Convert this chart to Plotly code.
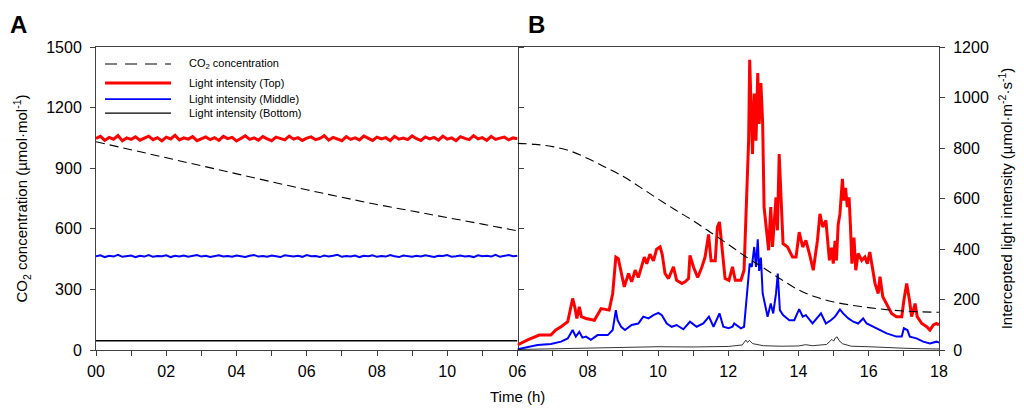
import plotly.graph_objects as go

# ---------------- Panel A (00-12 h, artificial light) ----------------
time_a = [0, 0.125, 0.25, 0.375, 0.5, 0.625, 0.75, 0.875,
          1, 1.125, 1.25, 1.375, 1.5, 1.625, 1.75, 1.875,
          2, 2.125, 2.25, 2.375, 2.5, 2.625, 2.75, 2.875,
          3, 3.125, 3.25, 3.375, 3.5, 3.625, 3.75, 3.875,
          4, 4.125, 4.25, 4.375, 4.5, 4.625, 4.75, 4.875,
          5, 5.125, 5.25, 5.375, 5.5, 5.625, 5.75, 5.875,
          6, 6.125, 6.25, 6.375, 6.5, 6.625, 6.75, 6.875,
          7, 7.125, 7.25, 7.375, 7.5, 7.625, 7.75, 7.875,
          8, 8.125, 8.25, 8.375, 8.5, 8.625, 8.75, 8.875,
          9, 9.125, 9.25, 9.375, 9.5, 9.625, 9.75, 9.875,
          10, 10.125, 10.25, 10.375, 10.5, 10.625, 10.75, 10.875,
          11, 11.125, 11.25, 11.375, 11.5, 11.625, 11.75, 11.875,
          12]
top_a = [838, 846, 830, 842, 835, 849, 829, 840, 834, 844,
         831, 839, 847, 833, 841, 828, 843, 836, 850, 832,
         840, 835, 845, 829, 838, 844, 833, 841, 830, 846,
         837, 842, 828, 839, 848, 834, 840, 831, 845, 836,
         829, 843, 838, 832, 847, 835, 841, 830, 839, 844,
         833, 838, 849, 831, 842, 836, 829, 845, 834, 840,
         832, 847, 838, 830, 843, 836, 841, 829, 846, 835,
         839, 833, 848, 837, 830, 844, 836, 842, 831, 847,
         835, 840, 829, 845, 838, 833, 849, 836, 841, 830,
         846, 834, 839, 843, 832, 840, 837]
mid_a = [371, 375, 368, 373, 370, 377, 369, 372, 374, 368,
         373, 370, 376, 369, 372, 371, 375, 368, 373, 370,
         374, 369, 372, 376, 370, 373, 368, 371, 375, 370,
         372, 369, 374, 371, 368, 373, 376, 370, 372, 369,
         374, 371, 368, 375, 372, 370, 373, 369, 376, 371,
         372, 368, 374, 370, 373, 377, 369, 372, 370, 374,
         368, 373, 371, 375, 369, 372, 370, 376, 371, 368,
         374, 372, 369, 373, 370, 375, 371, 368, 373, 372,
         376, 369, 371, 374, 370, 372, 368, 375, 371, 373,
         370, 377, 369, 372, 376, 371, 373]
bot_time_a = [0, 3, 6, 7.2, 9, 12]
bot_a = [37, 37, 37, 38, 37, 37]
co2_time_a = [0, 1, 2, 3, 4, 5, 6, 7, 8, 9, 10, 11, 12]
co2_a = [1031, 991, 952, 912, 873, 833, 793, 756, 720, 688, 657, 623, 590]

# ---------------- Panel B (06-18 h, natural light) ----------------
top_time_b = [6.00, 6.29, 6.62, 6.95, 7.09, 7.24, 7.43, 7.52, 7.57, 7.63, 7.69, 7.76, 7.82, 7.95,
              8.19, 8.38, 8.61, 8.71, 8.80, 8.87, 8.95, 9.04, 9.16, 9.25, 9.35, 9.44, 9.53, 9.61,
              9.68, 9.77, 9.87, 9.96, 10.06, 10.12, 10.20, 10.30, 10.44, 10.53, 10.68, 10.77,
              10.87, 10.91, 11.01, 11.13, 11.25, 11.34, 11.44, 11.51, 11.63, 11.69, 11.75, 11.82,
              11.91, 12.02, 12.12, 12.20, 12.36, 12.45, 12.52, 12.58, 12.61, 12.65, 12.69, 12.74,
              12.79, 12.84, 12.88, 12.93, 12.98, 13.02, 13.07, 13.15, 13.21, 13.26, 13.36, 13.40,
              13.45, 13.50, 13.56, 13.69, 13.83, 13.93, 14.02, 14.12, 14.21, 14.31, 14.42, 14.54,
              14.61, 14.69, 14.78, 14.88, 14.94, 14.99, 15.04, 15.08, 15.13, 15.18, 15.25, 15.29,
              15.34, 15.39, 15.44, 15.48, 15.52, 15.58, 15.63, 15.70, 15.80, 15.89, 15.96, 16.03,
              16.11, 16.18, 16.27, 16.32, 16.40, 16.51, 16.65, 16.79, 16.94, 17.00, 17.08, 17.16,
              17.22, 17.32, 17.38, 17.51, 17.65, 17.74, 17.84, 17.93, 18.00]
top_b = [20, 40, 59, 59, 79, 92, 112, 171, 204, 171, 125, 171, 132, 125,
         118, 164, 158, 224, 368, 362, 303, 250, 303, 270, 316, 287, 329, 368,
         342, 379, 353, 399, 408, 379, 303, 283, 329, 276, 263, 270,
         283, 375, 329, 287, 329, 368, 458, 353, 353, 487, 507, 408,
         283, 276, 329, 276, 276, 316, 566, 829, 1149, 963, 776, 1016,
         829, 1097, 895, 1057, 895, 566, 500, 395, 566, 408, 605, 474,
         776, 592, 421, 408, 368, 368, 467, 408, 434, 382, 316, 434,
         539, 487, 513, 355, 405, 342, 432, 355, 497, 539, 678, 592,
         642, 566, 605, 487, 342, 445, 316, 382, 355, 368, 342, 388,
         329, 263, 224, 290, 211, 184, 145, 132, 132, 197, 263, 197,
         132, 184, 132, 105, 92, 79, 99, 105, 99]

mid_time_b = [6.00, 6.57, 6.95, 7.24, 7.43, 7.57, 7.66, 7.76, 7.85, 7.95, 8.09, 8.28, 8.57, 8.71,
              8.80, 8.85, 8.95, 9.06, 9.25, 9.44, 9.58, 9.73, 9.87, 10.01, 10.11, 10.25, 10.39,
              10.53, 10.72, 10.91, 11.10, 11.29, 11.45, 11.58, 11.75, 11.86, 12.01, 12.12, 12.17,
              12.36, 12.45, 12.55, 12.61, 12.67, 12.74, 12.79, 12.84, 12.88, 12.93, 12.98, 13.05,
              13.12, 13.21, 13.28, 13.36, 13.41, 13.47, 13.56, 13.74, 13.88, 14.02, 14.12, 14.21,
              14.40, 14.64, 14.78, 14.92, 15.04, 15.18, 15.27, 15.42, 15.56, 15.70, 15.84, 15.94,
              16.13, 16.32, 16.51, 16.79, 16.94, 17.00, 17.10, 17.17, 17.36, 17.55, 17.74, 17.93,
              18.00]
mid_b = [3, 20, 24, 33, 46, 79, 53, 72, 49, 53, 40, 59, 59, 79,
         158, 118, 92, 79, 99, 105, 132, 125, 138, 147, 138, 105, 92,
         99, 82, 112, 92, 105, 132, 92, 145, 92, 86, 92, 105,
         86, 92, 237, 342, 329, 408, 329, 438, 313, 366, 224, 184,
         132, 184, 145, 224, 303, 158, 138, 118, 118, 162, 132, 138,
         105, 145, 105, 118, 132, 161, 145, 125, 112, 105, 125, 105,
         92, 79, 66, 53, 53, 86, 79, 53, 46, 33, 26, 33,
         29]

bot_time_b = [6.0, 7.0, 8.0, 9.0, 10.0, 11.0, 12.0, 12.4, 12.5, 12.55, 12.6, 12.7, 13.0, 13.5,
              14.0, 14.2, 14.4, 14.8, 14.95, 15.0, 15.05, 15.1, 15.15, 15.25, 15.5, 16.0, 16.5,
              17.0, 17.5, 18.0]
bot_b = [2, 4, 7, 10, 13, 12, 14, 20, 39, 30, 38, 25, 17, 15,
         16, 21, 17, 22, 42, 35, 48, 52, 38, 25, 15, 13, 9,
         7, 5, 4]

co2_time_b = [6, 6.5, 7, 7.5, 8, 8.5, 9, 9.5, 10, 10.5, 11, 11.5, 12, 12.5, 13, 13.5, 14, 14.5,
              15, 15.5, 16, 16.5, 17, 17.5, 18]
co2_b = [1023, 1018, 1007, 985, 948, 905, 860, 805, 748, 693, 640, 582, 523, 462, 407, 350,
         298, 262, 238, 222, 210, 200, 193, 189, 187]

# ---------------- Tick labels ----------------
xtick_a = [0, 2, 4, 6, 8, 10]
xtext_a = ["00", "02", "04", "06", "08", "10"]
xminor_a = [1, 3, 5, 7, 9, 11]
xtick_b = [6, 8, 10, 12, 14, 16, 18]
xtext_b = ["06", "08", "10", "12", "14", "16", "18"]
xminor_b = [7, 9, 11, 13, 15, 17]
ytick_co2 = [0, 300, 600, 900, 1200, 1500]
ytick_light = [0, 200, 400, 600, 800, 1000, 1200]

legend_names = ["CO<sub>2</sub> concentration", "Light intensity (Top)",
                "Light intensity (Middle)", "Light intensity (Bottom)"]

RED = "#ff0000"
BLUE = "#0000ff"
BLACK = "#000000"
AXC = "#404040"
FONT = "Liberation Sans, Arial, sans-serif"

fig = go.Figure()

# Panel A
fig.add_trace(go.Scatter(x=co2_time_a, y=co2_a, xaxis="x", yaxis="y", mode="lines",
                         line=dict(color=BLACK, width=1.1, dash="9px,5px"), showlegend=False))
fig.add_trace(go.Scatter(x=time_a, y=top_a, xaxis="x", yaxis="y3", mode="lines",
                         line=dict(color=RED, width=3), showlegend=False))
fig.add_trace(go.Scatter(x=time_a, y=mid_a, xaxis="x", yaxis="y3", mode="lines",
                         line=dict(color=BLUE, width=2), showlegend=False))
fig.add_trace(go.Scatter(x=bot_time_a, y=bot_a, xaxis="x", yaxis="y3", mode="lines",
                         line=dict(color=BLACK, width=1.5), showlegend=False))

# Panel B
fig.add_trace(go.Scatter(x=co2_time_b, y=co2_b, xaxis="x2", yaxis="y4", mode="lines",
                         line=dict(color=BLACK, width=1.1, dash="9px,5px", shape="spline"),
                         showlegend=False))
fig.add_trace(go.Scatter(x=top_time_b, y=top_b, xaxis="x2", yaxis="y2", mode="lines",
                         line=dict(color=RED, width=3), showlegend=False))
fig.add_trace(go.Scatter(x=mid_time_b, y=mid_b, xaxis="x2", yaxis="y2", mode="lines",
                         line=dict(color=BLUE, width=2), showlegend=False))
fig.add_trace(go.Scatter(x=bot_time_b, y=bot_b, xaxis="x2", yaxis="y2", mode="lines",
                         line=dict(color=BLACK, width=0.8), showlegend=False))

tickfont = dict(family=FONT, size=16, color="black")
titlefont = dict(family=FONT, size=15, color="black")

fig.update_layout(
    width=1024, height=411,
    margin=dict(l=96, r=85, t=47, b=61),
    paper_bgcolor="white", plot_bgcolor="white",
    font=dict(family=FONT, color="black"),
    hovermode=False,
    xaxis=dict(domain=[0, 0.5], range=[0, 12], anchor="y", tickmode="array",
               tickvals=xtick_a, ticktext=xtext_a, ticks="outside", ticklen=5,
               tickcolor=AXC, showline=True, linecolor=AXC, linewidth=1, mirror=True,
               showgrid=False, zeroline=False, tickfont=tickfont, ticklabelstandoff=2,
               minor=dict(tickvals=xminor_a, ticks="outside", ticklen=5,
                          tickcolor=AXC, showgrid=False)),
    yaxis=dict(domain=[0, 1], range=[0, 1500], anchor="x", side="left", tickmode="array",
               tickvals=ytick_co2, ticks="outside", ticklen=5, tickcolor=AXC,
               showline=True, linecolor=AXC, linewidth=1, mirror="allticks",
               showgrid=False, zeroline=False, tickfont=tickfont, ticklabelstandoff=5,
               title=dict(text="CO<sub>2</sub> concentration (µmol·mol<sup>-1</sup>)",
                          font=titlefont, standoff=14)),
    yaxis3=dict(range=[0, 1200], anchor="x", overlaying="y", visible=False),
    xaxis2=dict(domain=[0.5, 1], range=[6, 18], anchor="y2", tickmode="array",
                tickvals=xtick_b, ticktext=xtext_b, ticks="outside", ticklen=5,
                tickcolor=AXC, showline=True, linecolor=AXC, linewidth=1, mirror=True,
                showgrid=False, zeroline=False, tickfont=tickfont, ticklabelstandoff=2,
                minor=dict(tickvals=xminor_b, ticks="outside", ticklen=5,
                           tickcolor=AXC, showgrid=False)),
    yaxis2=dict(domain=[0, 1], range=[0, 1200], anchor="x2", side="right", tickmode="array",
                tickvals=ytick_light, ticks="outside", ticklen=5, tickcolor=AXC,
                showline=True, linecolor=AXC, linewidth=1, showgrid=False, zeroline=False,
                tickfont=tickfont, ticklabelstandoff=5,
                title=dict(text="Intercepted light intensity (µmol·m<sup>-2</sup>·s<sup>-1</sup>)",
                           font=titlefont, standoff=13)),
    yaxis4=dict(range=[0, 1500], anchor="x2", overlaying="y2", visible=False),
)

# Custom legend (inside panel A, top left)
leg_rows = [0.944, 0.881, 0.828, 0.782]
leg_styles = [dict(color=BLACK, width=1.1, dash="12px,8px"), dict(color=RED, width=3),
              dict(color=BLUE, width=1.6), dict(color=BLACK, width=1.2)]
for name, yy, st in zip(legend_names, leg_rows, leg_styles):
    fig.add_shape(type="line", xref="paper", yref="paper", x0=0.0107, x1=0.089, y0=yy, y1=yy,
                  line=st)
    fig.add_annotation(text=name, xref="paper", yref="paper", x=0.108, y=yy, xanchor="left",
                       yanchor="middle", showarrow=False,
                       font=dict(family=FONT, size=11, color="black"))

# Panel letters and shared x title
fig.add_annotation(text="<b>A</b>", xref="paper", yref="paper", x=-0.104, y=1.073,
                   xanchor="left", yanchor="middle", showarrow=False,
                   font=dict(family=FONT, size=24, color="black"))
fig.add_annotation(text="<b>B</b>", xref="paper", yref="paper", x=0.51, y=1.073,
                   xanchor="left", yanchor="middle", showarrow=False,
                   font=dict(family=FONT, size=24, color="black"))
fig.add_annotation(text="Time (h)", xref="paper", yref="paper", x=0.5, y=-0.155,
                   xanchor="center", yanchor="middle", showarrow=False, font=titlefont)

# remove the browser's default 8px page margin so the figure sits at the window origin
fig.write_html("out.html", config={"displayModeBar": False},
               post_script="document.body.style.margin='0';")
